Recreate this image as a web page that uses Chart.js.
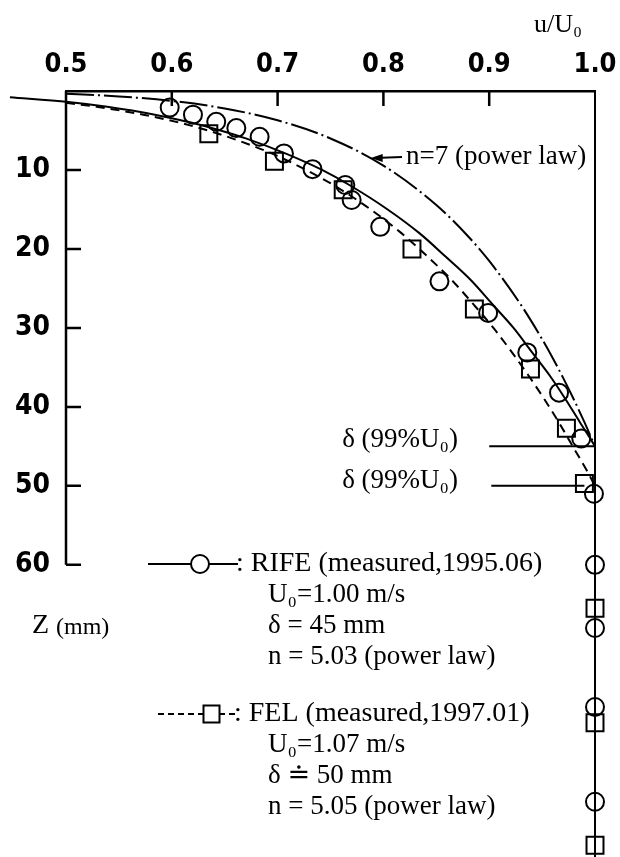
<!DOCTYPE html>
<html>
<head>
<meta charset="UTF-8">
<title>Velocity profile u/U0</title>
<script src="https://cdn.jsdelivr.net/npm/chart.js"></script>
<style>
  html, body { margin: 0; padding: 0; background: #fff; }
  #profile { display: block; }
</style>
</head>
<body>
<canvas id="profile" width="620" height="857"></canvas>
<script>
// axis ticks
const xTicks = [0.5, 0.6, 0.7, 0.8, 0.9, 1.0];
const zTicks = [10, 20, 30, 40, 50, 60];

// RIFE measured (circles)
const rifeU = [0.598, 0.620, 0.642, 0.661, 0.683, 0.706, 0.733, 0.764, 0.770, 0.797, 0.853, 0.899, 0.936, 0.966, 0.987, 0.999, 1.0, 1.0, 1.0, 1.0];
const rifeZ = [2.1, 3.0, 3.9, 4.7, 5.8, 7.9, 9.9, 11.9, 13.8, 17.2, 24.1, 28.1, 33.1, 38.2, 44.0, 51.0, 60, 68, 78, 90];

// FEL measured (squares)
const felU = [0.635, 0.697, 0.762, 0.827, 0.886, 0.939, 0.973, 0.990, 1.0, 1.0, 1.0];
const felZ = [5.4, 8.9, 12.5, 20.0, 27.6, 35.2, 42.7, 49.7, 65.5, 80, 95.5];

// power-law fit, RIFE (solid)
const rifeFitU = [0.447, 0.502, 0.539, 0.584, 0.618, 0.646, 0.670, 0.709, 0.742, 0.769, 0.804, 0.834, 0.859, 0.883, 0.903, 0.923, 0.940, 0.957, 0.972, 0.986, 0.9955, 1.0];
const rifeFitZ = [0.8, 1.4, 2, 3, 4, 5, 6, 8, 10, 12, 15, 18, 21, 24, 27, 30, 33, 36, 39, 42, 44, 45];

// power-law fit, FEL (dashed)
const felFitU = [0.500, 0.529, 0.573, 0.607, 0.634, 0.657, 0.696, 0.727, 0.754, 0.788, 0.817, 0.842, 0.865, 0.885, 0.904, 0.921, 0.937, 0.952, 0.966, 0.979, 0.992, 1.0];
const felFitZ = [1.5, 2, 3, 4, 5, 6, 8, 10, 12, 15, 18, 21, 24, 27, 30, 33, 36, 39, 42, 45, 48, 50];

// 1/7 power law (dash-dot)
const n7U = [0.5, 0.55, 0.6, 0.65, 0.7, 0.75, 0.8, 0.85, 0.88, 0.9, 0.93, 0.95, 0.96, 0.97, 0.98, 0.99, 0.995, 1.0];
const n7Z = [0.35, 0.69, 1.26, 2.21, 3.71, 6.01, 9.44, 14.43, 18.39, 21.52, 27.08, 31.42, 33.81, 36.36, 39.06, 41.94, 43.45, 45];

// free stream line and boundary layer thickness markers
const edgeU = [1.0, 1.0];
const edgeZ = [0, 97];
const deltaZ = [45, 50];
const deltaFromU = [0.9, 0.902];
const deltaToU = [1.0, 0.99];
const arrowAt = [0.788, 8.5];

const SERIF = '"Liberation Serif", "DejaVu Serif", serif';
const SANS = '"DejaVu Sans Condensed", "DejaVu Sans", sans-serif';

const pts = (us, zs) => us.map((u, i) => ({ x: u, y: zs[i] }));

function curve(data, dash) {
  return {
    data, showLine: true, borderColor: '#000', borderWidth: 2, borderDash: dash,
    pointRadius: 0, fill: false, cubicInterpolationMode: 'monotone', clip: false
  };
}

const datasets = [
  { data: pts(rifeU, rifeZ), pointStyle: 'circle', pointRadius: 9, borderColor: '#000',
    backgroundColor: 'rgba(0,0,0,0)', borderWidth: 2, showLine: false, clip: false },
  { data: pts(felU, felZ), pointStyle: 'rect', pointRadius: 12, borderColor: '#000',
    backgroundColor: 'rgba(0,0,0,0)', borderWidth: 2, showLine: false, clip: false },
  curve(pts(rifeFitU, rifeFitZ), []),
  curve(pts(felFitU, felFitZ), [9, 6]),
  curve(pts(n7U, n7Z), [28, 4, 2, 4]),
  curve(pts(edgeU, edgeZ), []),
  curve(pts([deltaFromU[0], deltaToU[0]], [deltaZ[0], deltaZ[0]]), []),
  curve(pts([deltaFromU[1], deltaToU[1]], [deltaZ[1], deltaZ[1]]), [])
];

// left axis stops at Z = 60, ticks point into the plot
const frame = {
  id: 'frame',
  beforeDatasetsDraw(chart) {
    const { ctx, scales: { x, y } } = chart;
    const x0 = x.getPixelForValue(0.5);
    ctx.save();
    ctx.strokeStyle = '#000';
    ctx.lineWidth = 2.5;
    ctx.beginPath();
    ctx.moveTo(x0, y.getPixelForValue(0));
    ctx.lineTo(x0, y.getPixelForValue(60));
    zTicks.forEach(z => {
      const py = y.getPixelForValue(z);
      ctx.moveTo(x0, py);
      ctx.lineTo(x0 + 15, py);
    });
    xTicks.slice(1, -1).forEach(u => {
      const px = x.getPixelForValue(u);
      ctx.moveTo(px, y.top);
      ctx.lineTo(px, y.top + 15);
    });
    ctx.stroke();
    ctx.restore();
  }
};

function text(ctx, s, px, py, size, align) {
  ctx.font = size + 'px ' + SERIF;
  ctx.textAlign = align || 'left';
  ctx.fillText(s, px, py);
}

const notes = {
  id: 'notes',
  afterDatasetsDraw(chart) {
    const { ctx, scales: { x, y } } = chart;
    ctx.save();
    ctx.fillStyle = '#000';
    ctx.strokeStyle = '#000';
    ctx.textBaseline = 'middle';

    text(ctx, 'u/U₀', 582, 25, 26, 'right');

    // n=7 label with arrow
    const tipX = x.getPixelForValue(arrowAt[0]);
    const tipY = y.getPixelForValue(arrowAt[1]);
    ctx.lineWidth = 2;
    ctx.beginPath();
    ctx.moveTo(402, tipY - 1);
    ctx.lineTo(tipX + 4, tipY);
    ctx.stroke();
    ctx.beginPath();
    ctx.moveTo(tipX, tipY);
    ctx.lineTo(tipX + 12, tipY - 4);
    ctx.lineTo(tipX + 12, tipY + 4);
    ctx.closePath();
    ctx.fill();
    text(ctx, 'n=7 (power law)', 406, tipY - 1, 27);

    // boundary layer thickness labels
    text(ctx, 'δ (99%U₀)', 458, y.getPixelForValue(deltaZ[0]) - 6, 27, 'right');
    text(ctx, 'δ (99%U₀)', 458, y.getPixelForValue(deltaZ[1]) - 5, 27, 'right');

    // Z axis title
    ctx.font = '28px ' + SERIF;
    ctx.textAlign = 'left';
    ctx.fillText('Z', 32, 626);
    ctx.font = '24px ' + SERIF;
    ctx.fillText('(mm)', 56, 628);

    // RIFE legend block
    ctx.lineWidth = 2;
    ctx.setLineDash([]);
    ctx.beginPath();
    ctx.moveTo(148, 564);
    ctx.lineTo(191, 564);
    ctx.moveTo(209, 564);
    ctx.lineTo(238, 564);
    ctx.stroke();
    ctx.beginPath();
    ctx.arc(200, 564, 9, 0, Math.PI * 2);
    ctx.stroke();
    text(ctx, ': RIFE (measured,1995.06)', 236, 564, 28);
    text(ctx, 'U₀=1.00 m/s', 268, 595, 27);
    text(ctx, 'δ = 45 mm', 268, 626, 27);
    text(ctx, 'n = 5.03 (power law)', 268, 657, 27);

    // FEL legend block
    ctx.setLineDash([6, 4]);
    ctx.beginPath();
    ctx.moveTo(158, 714);
    ctx.lineTo(203, 714);
    ctx.moveTo(219, 714);
    ctx.lineTo(235, 714);
    ctx.stroke();
    ctx.setLineDash([]);
    ctx.strokeRect(203.5, 705.5, 16, 17);
    text(ctx, ': FEL (measured,1997.01)', 234, 714, 28);
    text(ctx, 'U₀=1.07 m/s', 268, 745, 27);
    text(ctx, 'δ ≐ 50 mm', 268, 776, 27);
    text(ctx, 'n = 5.05 (power law)', 268, 807, 27);
    ctx.restore();
  }
};

new Chart(document.getElementById('profile'), {
  type: 'scatter',
  data: { datasets },
  options: {
    responsive: false,
    animation: false,
    devicePixelRatio: 1,
    events: [],
    layout: { autoPadding: false, padding: { left: 0, top: 0, right: 25, bottom: 0 } },
    plugins: { legend: { display: false }, tooltip: { enabled: false } },
    scales: {
      x: {
        type: 'linear',
        position: 'top',
        min: 0.5,
        max: 1.0,
        afterFit: s => { s.height = 91; s.paddingLeft = 0; s.paddingRight = 0; },
        afterBuildTicks: s => { s.ticks = xTicks.map(v => ({ value: v })); },
        grid: { display: false, drawTicks: false },
        border: { display: true, color: '#000', width: 2.5 },
        ticks: {
          color: '#000',
          padding: 10,
          maxRotation: 0,
          font: { family: SANS, size: 27, weight: 'bold' },
          callback: v => v.toFixed(1)
        }
      },
      y: {
        type: 'linear',
        position: 'left',
        reverse: true,
        min: 0,
        max: 97,
        afterFit: s => { s.width = 66; s.paddingTop = 0; s.paddingBottom = 0; },
        afterBuildTicks: s => { s.ticks = zTicks.map(v => ({ value: v })); },
        grid: { display: false, drawTicks: false },
        border: { display: false },
        ticks: {
          color: '#000',
          padding: 16,
          font: { family: SANS, size: 28, weight: 'bold' },
          callback: v => String(v)
        }
      }
    }
  },
  plugins: [frame, notes]
});
</script>
</body>
</html>
